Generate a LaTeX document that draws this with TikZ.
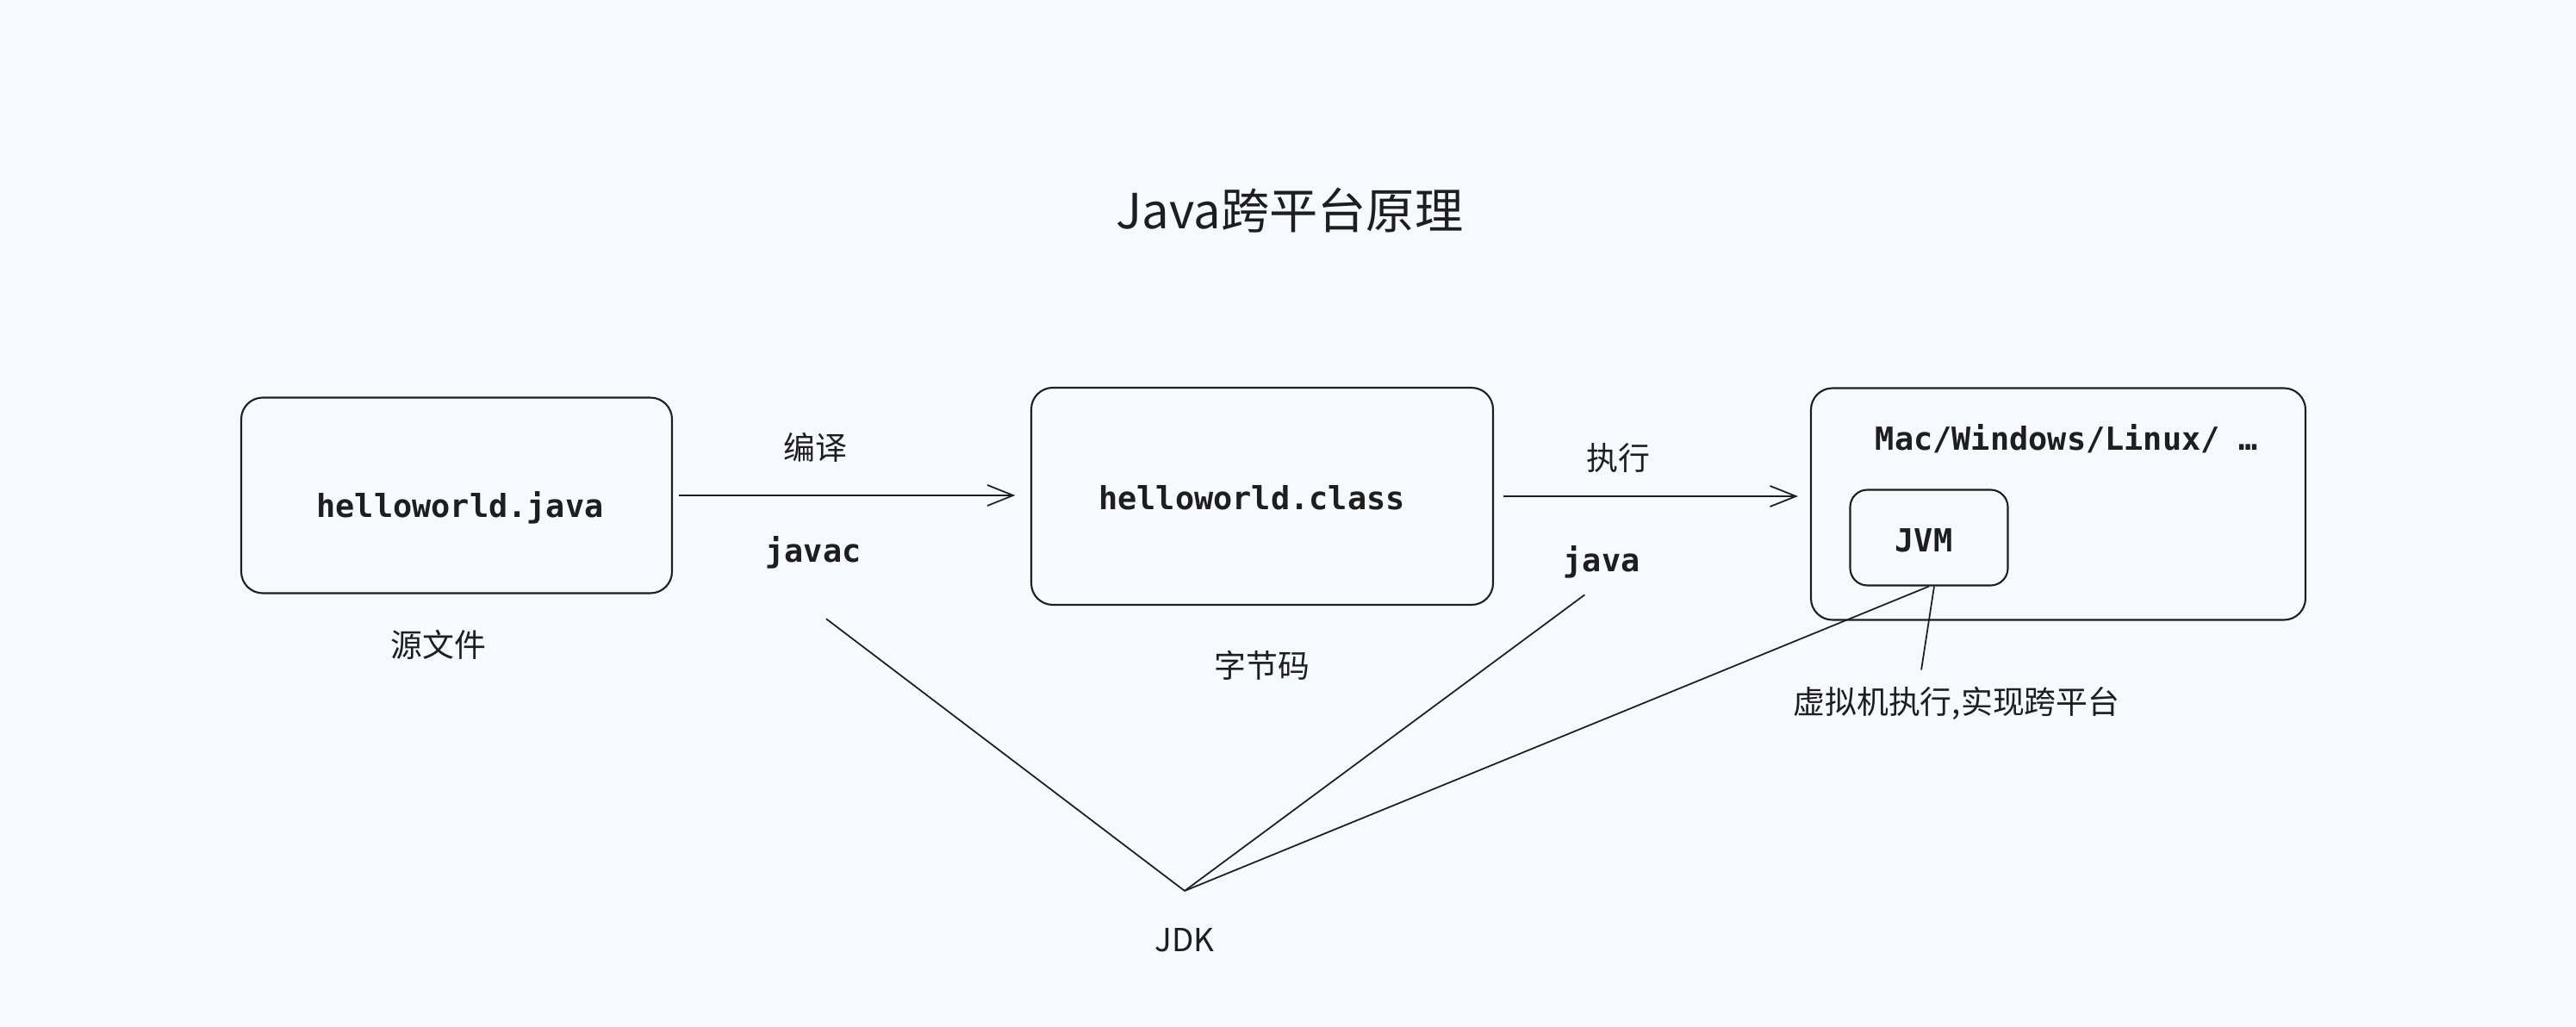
\documentclass[tikz,border=0pt]{standalone}
\usepackage{fontspec}
\setmainfont{Noto Sans CJK SC}
\setmonofont{DejaVu Sans Mono}
\usetikzlibrary{positioning,arrows.meta}
\definecolor{fond}{HTML}{F6F9FE}
\definecolor{encre}{HTML}{1E1E1E}
\tikzset{
  boite/.style={draw=encre,line width=0.6pt,rounded corners=0.25cm,inner sep=0pt},
  code/.style={text=encre,font=\ttfamily\bfseries\fontsize{10.5}{12}\selectfont},
  etiq/.style={text=encre,font=\fontsize{10.5}{12}\selectfont},
  fleche/.style={draw=encre,line width=0.5pt,-{Straight Barb[length=3mm,width=2.4mm]}},
  trait/.style={draw=encre,line width=0.5pt}
}
\begin{document}
\begin{tikzpicture}
            \fill[fond] (0,0) rectangle (29.9,11.92);
            \useasboundingbox (0,0) rectangle (29.9,11.92);
            \node[text=encre,font=\fontsize{16}{19}\selectfont] (titre) at (14.97,9.48) {Java跨平台原理};
            % les trois boites
            \node[boite,minimum width=5cm,minimum height=2.27cm] (src) at (5.30,6.17) {};
            \node[code] (srctxt) at (5.34,6.03) {helloworld.java};
            \node[etiq] (srclab) at (5.09,4.44) {源文件};
            \node[boite,minimum width=5.36cm,minimum height=2.52cm] (cls) at (14.65,6.16) {};
            \node[code] (clstxt) at (14.53,6.14) {helloworld.class};
            \node[etiq] (clslab) at (14.65,4.20) {字节码};
            \node[boite,minimum width=5.74cm,minimum height=2.69cm] (os) at (23.89,6.07) {};
            \node[code] (ostxt) at (23.99,6.83) {Mac/Windows/Linux/ …};
            \node[boite,rounded corners=0.2cm,minimum width=1.83cm,minimum height=1.11cm] (jvm) at (22.39,5.68) {};
            \node[code] (jvmtxt) at (22.33,5.65) {JVM};
            % fleches et etiquettes
            \draw[fleche,shorten <=2pt,shorten >=5pt] (src.east) -- (src.east -| cls.west);
            \node[etiq] (bian) at (9.46,6.73) {编译};
            \node[code] (javac) at (9.44,5.51) {javac};
            \draw[fleche,shorten <=3pt,shorten >=4pt] (cls.east) -- (cls.east -| os.west);
            \node[etiq] (exec) at (18.78,6.60) {执行};
            \node[code] (java) at (18.59,5.40) {java};
            \node[etiq] (vmlab) at (22.71,3.76) {虚拟机执行,实现跨平台};
            \node[etiq] (jdk) at (13.75,1.01) {JDK};
            \coordinate (jdkpt) at (13.75,1.58);
            % liens vers le JDK
            \draw[trait] ([xshift=0.15cm,yshift=-0.46cm]javac.south) -- (jdkpt);
            \draw[trait,shorten <=0.12cm] ([xshift=-0.1cm]java.south) -- (jdkpt);
            \draw[trait] (jvm.south) -- (jdkpt);
            \draw[trait,shorten >=2pt] ([xshift=0.06cm]jvm.south) -- ([xshift=-0.42cm]vmlab.north);
        \end{tikzpicture}
\end{document}
